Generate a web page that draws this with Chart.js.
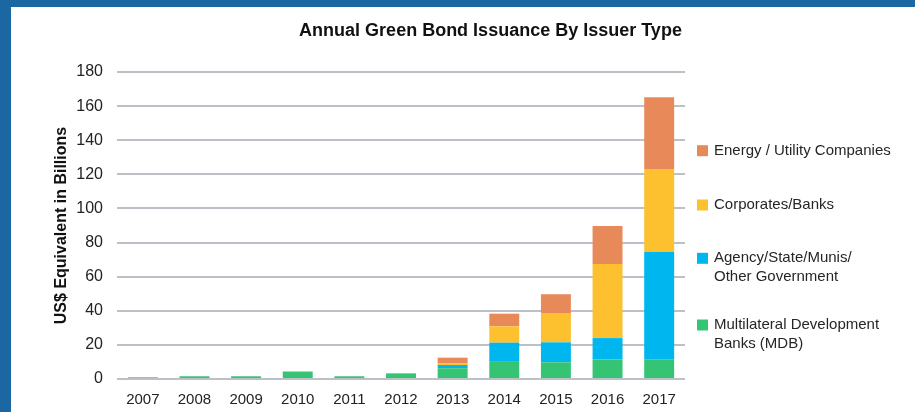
<!DOCTYPE html>
<html>
<head>
<meta charset="utf-8">
<script src="https://cdn.jsdelivr.net/npm/chart.js@4"></script>
<style>
  html, body { margin: 0; padding: 0; background: #1b67a2; width: 915px; height: 412px; overflow: hidden; }
  #frame { position: absolute; left: 11px; top: 7px; width: 904px; height: 405px; background: #ffffff; }
  canvas { display: block; }
</style>
</head>
<body>
<div id="frame"><canvas id="c" width="904" height="405"></canvas></div>
<script>
const years = ['2007','2008','2009','2010','2011','2012','2013','2014','2015','2016','2017'];
const mdb        = [1.0, 1.6, 1.6, 4.4, 1.6, 3.3, 6.3, 10.5, 9.8, 11.5, 11.5];
const agency     = [0, 0, 0, 0, 0, 0, 1.9, 10.8, 11.7, 12.5, 63.0];
const corporates = [0, 0, 0, 0, 0, 0, 0.9, 9.6, 16.8, 43.4, 48.6];
const energy     = [0, 0, 0, 0, 0, 0, 3.4, 7.4, 11.4, 22.3, 42.1];
const yTicks = [0, 20, 40, 60, 80, 100, 120, 140, 160, 180];

const chartTitle = 'Annual Green Bond Issuance By Issuer Type';
const yTitle = 'US$ Equivalent in Billions';
const legendItems = [
  { lines: ['Energy / Utility Companies'], color: '#e8895a' },
  { lines: ['Corporates/Banks'], color: '#fdc02f' },
  { lines: ['Agency/State/Munis/', 'Other Government'], color: '#00b6ef' },
  { lines: ['Multilateral Development', 'Banks (MDB)'], color: '#35c474' }
];

const FONT = "'Liberation Sans', Arial, sans-serif";

const overlay = {
  id: 'overlay',
  afterDraw(chart) {
    const ctx = chart.ctx;
    const a = chart.chartArea;
    ctx.save();
    // title
    ctx.fillStyle = '#111111';
    ctx.font = "bold 18px " + FONT;
    ctx.textAlign = 'center';
    ctx.textBaseline = 'middle';
    ctx.fillText(chartTitle, 479.5, 24);
    // legend
    const ys = [78.7, 133, 186.3, 253];
    ctx.font = "15px " + FONT;
    ctx.textAlign = 'left';
    legendItems.forEach((it, i) => {
      const y = a.top + ys[i];
      ctx.fillStyle = it.color;
      ctx.fillRect(a.right + 12, y - 5.5, 11, 11);
      ctx.fillStyle = '#262626';
      it.lines.forEach((ln, j) => ctx.fillText(ln, a.right + 29, y + j * 18.5));
    });
    ctx.restore();
  }
};

new Chart(document.getElementById('c'), {
  type: 'bar',
  data: {
    labels: years,
    datasets: [
      { label: 'Multilateral Development Banks (MDB)', data: mdb, backgroundColor: '#35c474' },
      { label: 'Agency/State/Munis/Other Government', data: agency, backgroundColor: '#00b6ef' },
      { label: 'Corporates/Banks', data: corporates, backgroundColor: '#fdc02f' },
      { label: 'Energy / Utility Companies', data: energy, backgroundColor: '#e8895a' }
    ]
  },
  options: {
    responsive: false,
    animation: false,
    devicePixelRatio: 1,
    layout: { padding: { top: 65, right: 230, bottom: 0, left: 0 } },
    datasets: { bar: { barPercentage: 0.58, categoryPercentage: 1.0, borderWidth: 0 } },
    plugins: {
      legend: { display: false },
      title: { display: false },
      tooltip: { enabled: false }
    },
    scales: {
      x: {
        stacked: true,
        grid: { display: false },
        border: { display: false },
        ticks: { color: '#222222', font: { family: FONT, size: 15 }, padding: 4, maxRotation: 0, autoSkip: false },
        afterFit(s) { s.height = 33; }
      },
      y: {
        stacked: true,
        min: 0, max: 180,
        afterBuildTicks(s) { s.ticks = yTicks.map(v => ({ value: v })); },
        grid: { color: '#bcc0c7', lineWidth: 2, drawTicks: false },
        border: { display: false },
        ticks: { color: '#222222', font: { family: FONT, size: 16 }, padding: 14 },
        title: { display: true, text: yTitle, color: '#111111', font: { family: FONT, size: 16, weight: 'bold' }, padding: { top: 41, bottom: 0 } },
        afterFit(s) { s.width = 106; }
      }
    }
  },
  plugins: [overlay]
});
</script>
</body>
</html>
